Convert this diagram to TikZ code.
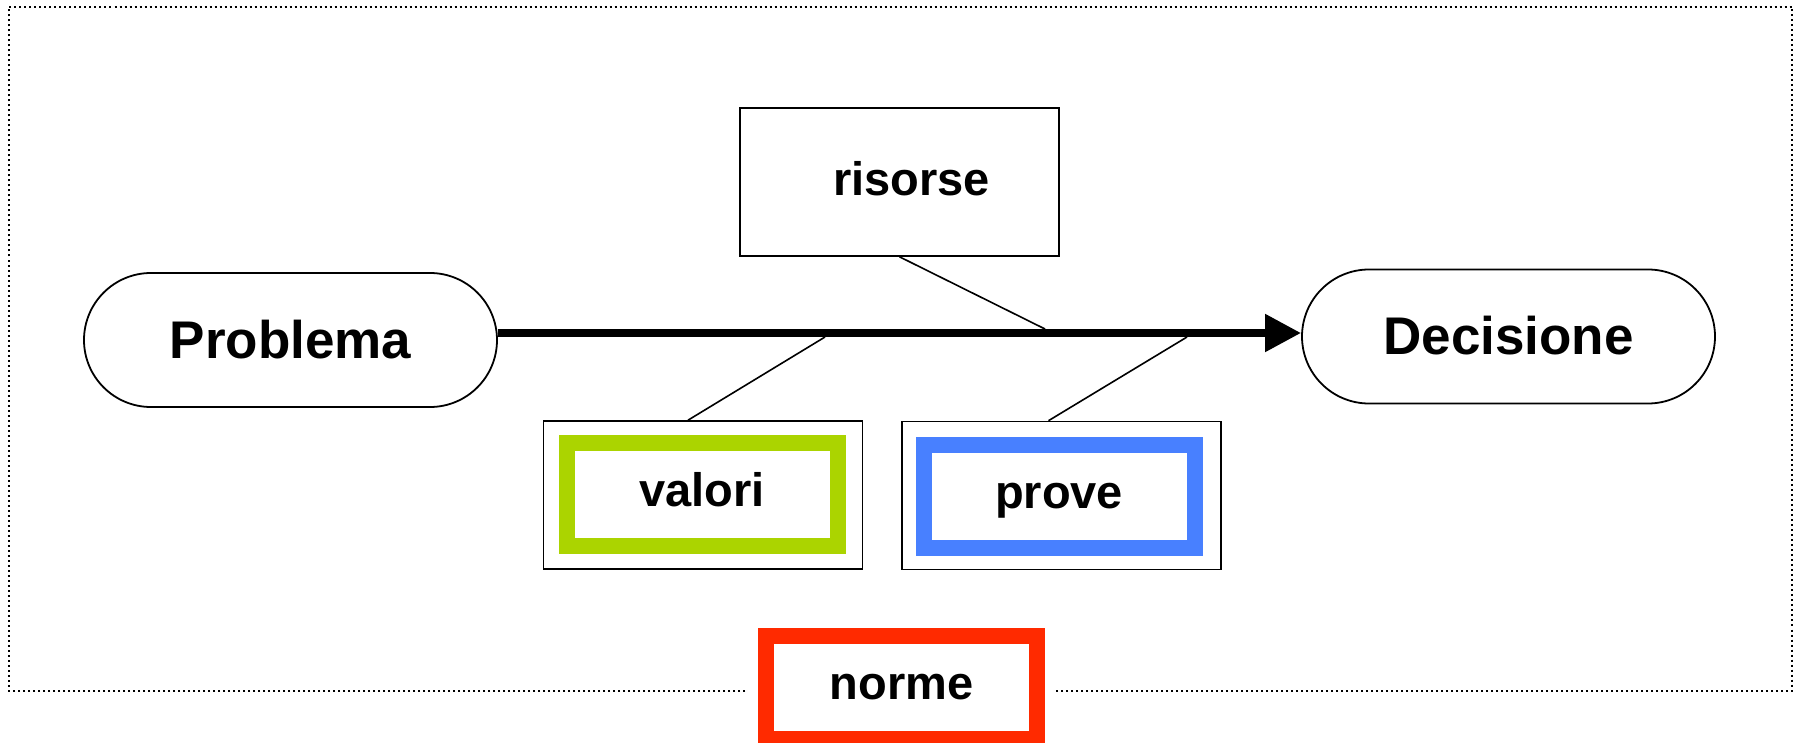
\documentclass[tikz,border=0pt]{standalone}
\usepackage{fontspec}
\setmainfont{Liberation Sans}
\usetikzlibrary{arrows.meta}
\definecolor{valgreen}{RGB}{171,212,0}
\definecolor{provblue}{RGB}{72,128,255}
\definecolor{normred}{RGB}{255,42,0}
\begin{document}
\begin{tikzpicture}[x=1pt,y=-1pt,
  stadium/.style={draw, line width=1.8pt, rounded corners=67pt, minimum width=413pt, minimum height=134pt, inner sep=0pt, font=\bfseries\fontsize{53}{60}\selectfont, text height=38pt, text depth=2pt},
  plainbox/.style={draw, line width=1.6pt, minimum width=319pt, minimum height=148pt, inner sep=0pt},
  colbox/.style={draw=#1, line width=16pt, minimum width=271pt, minimum height=103pt, inner sep=0pt, font=\bfseries\fontsize{47}{55}\selectfont, text height=34pt, text depth=10pt},
  smalltext/.style={font=\bfseries\fontsize{47}{55}\selectfont, text height=34pt, text depth=6pt},
  spine/.style={line width=8pt, -{Triangle[length=36pt,width=36pt]}},
  bone/.style={line width=1.6pt},
  frame/.style={line width=2pt, dash pattern=on 2pt off 3pt}
]
\useasboundingbox (0,0) rectangle (1802,743);
% dotted frame, open at the bottom around "norme"
\draw[frame] (745,690.5) -- (9,690.5) -- (9,7) -- (1792,7) -- (1792,690.5) -- (1055,690.5);

% main nodes
\node[stadium] (Problema) at (290.5,340) {Problema};
\node[stadium] (Decisione) at (1508.5,336.5) {Decisione};

% risorse
\node[plainbox, smalltext] (risorse) at (899.5,182) {\hspace*{24pt}risorse};

% valori
\node[plainbox] (valoriOut) at (703,495) {};
\node[colbox=valgreen] (valori) at (702,494.5) {valori};

% prove
\node[plainbox] (proveOut) at (1061.5,495.5) {};
\node[colbox=provblue] (prove) at (1059,496) {prove};

% norme
\node[colbox=normred] (norme) at (901.5,687.5) {norme};

% spine
\coordinate (s0) at (0,333);
\draw[spine] (Problema.east |- s0) -- (Decisione.west |- s0);

% bones
\coordinate (s1) at (1045,329);
\coordinate (s2) at (825,337);
\coordinate (s3) at (1187,337);
\draw[bone] (risorse.south) -- (s1);
\draw[bone] ([xshift=-15pt]valoriOut.north) -- (s2);
\draw[bone] ([xshift=-13pt]proveOut.north) -- (s3);
\end{tikzpicture}
\end{document}
